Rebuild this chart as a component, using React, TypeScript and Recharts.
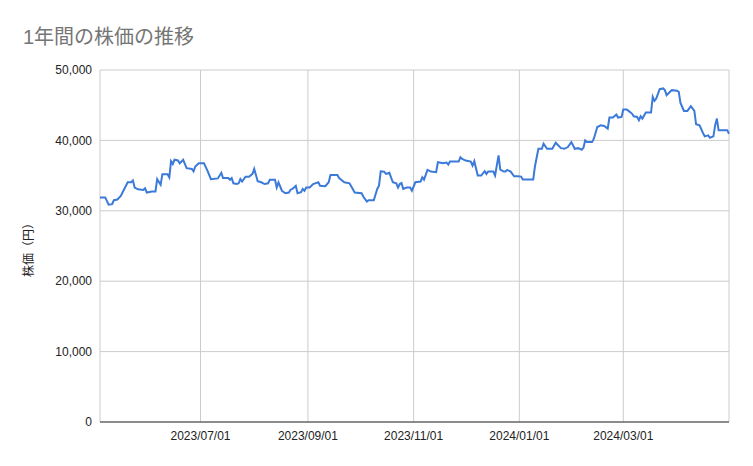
import React from "react";
import { LineChart, Line, XAxis, YAxis, CartesianGrid } from "recharts";

// Daily close
const dates = [
  "2023-05-04", "2023-05-07", "2023-05-09", "2023-05-11", "2023-05-12", "2023-05-14", "2023-05-16", "2023-05-18",
  "2023-05-20", "2023-05-22", "2023-05-23", "2023-05-24", "2023-05-26", "2023-05-29", "2023-05-30", "2023-05-31",
  "2023-06-03", "2023-06-05", "2023-06-06", "2023-06-08", "2023-06-09", "2023-06-12", "2023-06-13", "2023-06-14",
  "2023-06-15", "2023-06-16", "2023-06-18", "2023-06-19", "2023-06-21", "2023-06-23", "2023-06-26", "2023-06-27",
  "2023-06-28", "2023-06-30", "2023-07-03", "2023-07-05", "2023-07-07", "2023-07-11", "2023-07-13", "2023-07-14",
  "2023-07-17", "2023-07-18", "2023-07-19", "2023-07-20", "2023-07-22", "2023-07-23", "2023-07-24", "2023-07-25",
  "2023-07-27", "2023-07-29", "2023-07-31", "2023-08-01", "2023-08-03", "2023-08-05", "2023-08-07", "2023-08-09",
  "2023-08-10", "2023-08-13", "2023-08-14", "2023-08-15", "2023-08-17", "2023-08-19", "2023-08-21", "2023-08-22",
  "2023-08-23", "2023-08-25", "2023-08-26", "2023-08-28", "2023-08-29", "2023-08-30", "2023-08-31", "2023-09-02",
  "2023-09-04", "2023-09-07", "2023-09-08", "2023-09-11", "2023-09-13", "2023-09-14", "2023-09-18", "2023-09-19",
  "2023-09-22", "2023-09-25", "2023-09-28", "2023-10-02", "2023-10-03", "2023-10-05", "2023-10-06", "2023-10-09",
  "2023-10-11", "2023-10-12", "2023-10-13", "2023-10-15", "2023-10-16", "2023-10-18", "2023-10-20", "2023-10-22",
  "2023-10-23", "2023-10-24", "2023-10-25", "2023-10-26", "2023-10-28", "2023-10-30", "2023-10-31", "2023-11-02",
  "2023-11-05", "2023-11-06", "2023-11-07", "2023-11-09", "2023-11-11", "2023-11-14", "2023-11-15", "2023-11-18",
  "2023-11-20", "2023-11-21", "2023-11-22", "2023-11-27", "2023-11-28", "2023-11-29", "2023-12-01", "2023-12-03",
  "2023-12-04", "2023-12-05", "2023-12-06", "2023-12-08", "2023-12-10", "2023-12-12", "2023-12-13", "2023-12-14",
  "2023-12-17", "2023-12-18", "2023-12-20", "2023-12-21", "2023-12-23", "2023-12-24", "2023-12-25", "2023-12-27",
  "2023-12-29", "2023-12-31", "2024-01-02", "2024-01-03", "2024-01-09", "2024-01-10", "2024-01-12", "2024-01-14",
  "2024-01-15", "2024-01-17", "2024-01-20", "2024-01-22", "2024-01-25", "2024-01-27", "2024-01-29", "2024-01-31",
  "2024-02-02", "2024-02-04", "2024-02-06", "2024-02-07", "2024-02-08", "2024-02-09", "2024-02-12", "2024-02-13",
  "2024-02-15", "2024-02-17", "2024-02-19", "2024-02-21", "2024-02-22", "2024-02-24", "2024-02-26", "2024-02-27",
  "2024-02-29", "2024-03-01", "2024-03-03", "2024-03-04", "2024-03-06", "2024-03-07", "2024-03-09", "2024-03-10",
  "2024-03-11", "2024-03-12", "2024-03-14", "2024-03-17", "2024-03-18", "2024-03-19", "2024-03-20", "2024-03-22",
  "2024-03-24", "2024-03-25", "2024-03-26", "2024-03-28", "2024-03-29", "2024-04-01", "2024-04-02", "2024-04-03",
  "2024-04-05", "2024-04-07", "2024-04-09", "2024-04-11", "2024-04-12", "2024-04-14", "2024-04-16", "2024-04-17",
  "2024-04-19", "2024-04-20", "2024-04-22", "2024-04-23", "2024-04-24", "2024-04-25", "2024-04-28", "2024-04-30",
  "2024-05-01",
];

const prices = [
  31900, 31900, 30860, 30950, 31500, 31600, 32100, 33100,
  34050, 34050, 34300, 33300, 33050, 32950, 33200, 32600,
  32750, 32750, 34500, 33700, 35200, 35200, 34750, 37050,
  36650, 37250, 37150, 36750, 37250, 36050, 35950, 35600,
  36300, 36750, 36750, 35700, 34500, 34600, 35400, 34650,
  34650, 34400, 34650, 33900, 33800, 33900, 34500, 34150,
  34850, 34850, 35250, 35950, 34200, 34050, 33800, 33900,
  34400, 34400, 33300, 34050, 32850, 32500, 32600, 33000,
  33100, 33550, 32500, 32650, 33100, 32850, 33300, 33300,
  33800, 34050, 33550, 33500, 34050, 35100, 35100, 34650,
  34050, 33900, 32600, 32500, 32000, 31300, 31500, 31500,
  33100, 33550, 35600, 35550, 35250, 35400, 34050, 33900,
  33300, 33800, 33950, 33100, 33300, 33300, 32850, 34050,
  34150, 34760, 34430, 35810, 35570, 35480, 36900, 36760,
  36860, 36570, 37000, 37000, 37620, 37380, 37140, 37050,
  37000, 36430, 37050, 35000, 35000, 35620, 35240, 35570,
  35570, 35000, 37860, 35860, 35570, 35570, 35810, 35570,
  34900, 34900, 34860, 34430, 34430, 36290, 38810, 38810,
  39520, 38810, 38810, 39670, 38900, 38810, 39050, 39760,
  38810, 38900, 38670, 38950, 40000, 39760, 39760, 40240,
  41900, 42140, 42050, 41670, 43240, 43240, 43670, 43240,
  43330, 44380, 44380, 44190, 43810, 43430, 43330, 42860,
  43430, 43100, 43950, 43950, 46190, 45620, 45950, 47280,
  47380, 47140, 46430, 46900, 47140, 47050, 46900, 45330,
  44190, 44190, 44860, 44190, 42290, 42140, 41050, 40570,
  40710, 40380, 40570, 42140, 43100, 41430, 41430, 41430,
  40950,
];

const xTickDates = ["2023-07-01", "2023-09-01", "2023-11-01", "2024-01-01", "2024-03-01", "2024-05-01"];
const yTicks = [0, 10000, 20000, 30000, 40000, 50000];

const title = "1年間の株価の推移";
const yLabel = "株価（円）";

const FONT = "Arial, 'Liberation Sans', 'Noto Sans CJK JP', sans-serif";

const chartData = dates.map((d, i) => ({ t: Date.parse(d), price: prices[i] }));
const xTicks = xTickDates.map((d) => Date.parse(d));
const lastTick = xTicks[xTicks.length - 1];

function fmtDate(v: number) {
  // the last gridline has no label in the reference
  if (v === lastTick) return "";
  const d = new Date(v);
  const mm = String(d.getUTCMonth() + 1).padStart(2, "0");
  const dd = String(d.getUTCDate()).padStart(2, "0");
  return `${d.getUTCFullYear()}/${mm}/${dd}`;
}

export default function App() {
  return (
    <div
      style={{
        position: "absolute",
        left: 0,
        top: 0,
        width: 753,
        height: 466,
        background: "#ffffff",
      }}
    >
      <LineChart
        width={753}
        height={466}
        data={chartData}
        margin={{ top: 70, right: 24, left: 0, bottom: 14 }}
      >
        <CartesianGrid stroke="#cccccc" />

        <XAxis
          dataKey="t"
          type="number"
          scale="time"
          domain={["dataMin", "dataMax"]}
          ticks={xTicks}
          interval={0}
          tickFormatter={fmtDate}
          tickLine={false}
          axisLine={{ stroke: "#333333" }}
          tickMargin={3}
          height={30}
          tick={{ fontSize: 12, fill: "#222222", fontFamily: FONT }}
        />

        <YAxis
          domain={[0, 50000]}
          ticks={yTicks}
          interval={0}
          width={100}
          axisLine={false}
          tickLine={false}
          tickFormatter={(v) => Number(v).toLocaleString("en-US")}
          tick={{ fontSize: 12, fill: "#222222", fontFamily: FONT }}
        />

        <Line
          type="linear"
          dataKey="price"
          stroke="#3c7ad9"
          strokeWidth={2}
          dot={false}
          isAnimationActive={false}
        />
      </LineChart>

      {/* title and axis title overlay */}
      <svg
        width={753}
        height={466}
        style={{ position: "absolute", left: 0, top: 0, pointerEvents: "none" }}
      >
        <text x={23} y={43.5} fontSize={20} fill="#757575" fontFamily={FONT}>
          {title}
        </text>
        <text
          x={28.5}
          y={247}
          fontSize={12}
          fill="#222222"
          fontFamily={FONT}
          textAnchor="middle"
          dominantBaseline="central"
          transform="rotate(-90 28.5 247)"
        >
          {yLabel}
        </text>
      </svg>
    </div>
  );
}
